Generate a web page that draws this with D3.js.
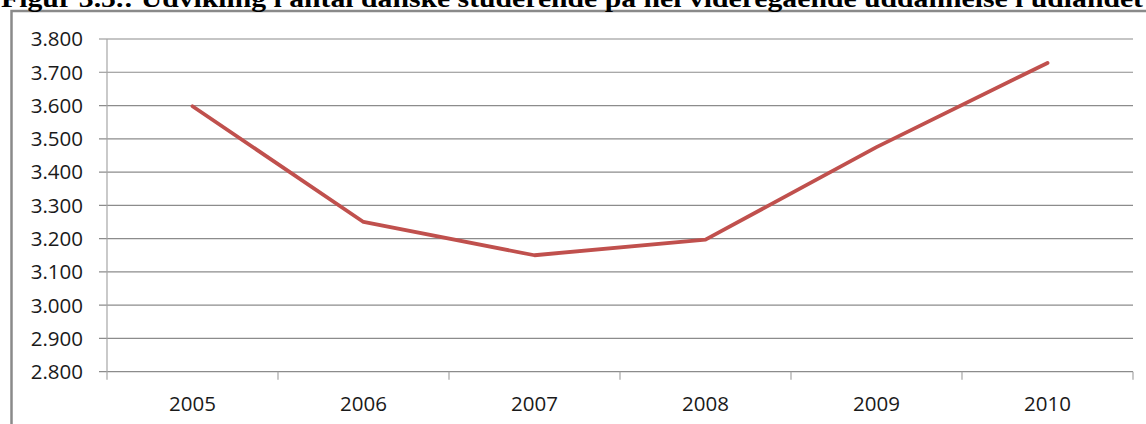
<!DOCTYPE html>
<html><head><meta charset="utf-8">
<script src="https://cdn.jsdelivr.net/npm/d3@7"></script>
<style>html,body{margin:0;padding:0;background:#fff;overflow:hidden}</style>
</head><body>
<svg id="chart" width="1146" height="424"></svg>
<script>
const title = "Figur 3.5.: Udvikling i antal danske studerende på hel videregående uddannelse i udlandet";
const years = ["2005", "2006", "2007", "2008", "2009", "2010"];
const students = [3598, 3250, 3150, 3197, 3475, 3728];
const yTicks = [2800, 2900, 3000, 3100, 3200, 3300, 3400, 3500, 3600, 3700, 3800];

const svg = d3.select("#chart");
const W = 1146, H = 424;
const m = {left: 107, right: 1133, top: 39, bottom: 371.7};

svg.append("rect").attr("width", W).attr("height", H).attr("fill", "#fff");

// frame
svg.append("rect").attr("x", 11.5).attr("y", 11).attr("width", 1200).attr("height", 500)
  .attr("fill", "none").attr("stroke", "#8a8a8a").attr("stroke-width", 2.5);

// title (clipped at top)
svg.append("text").attr("x", 1).attr("y", 7)
  .attr("font-family", "Liberation Serif, Times New Roman, serif")
  .attr("font-weight", "bold").attr("font-size", 26)
  .attr("textLength", 1142).attr("lengthAdjust", "spacingAndGlyphs")
  .attr("fill", "#000").text(title);

const locale = d3.formatLocale({decimal: ",", thousands: ".", grouping: [3], currency: ["", " kr."]});
const fmt = locale.format(",.0f");

const x = d3.scaleBand().domain(years).range([m.left, m.right]).padding(0);
const y = d3.scaleLinear().domain([2800, 3800]).range([m.bottom, m.top]);

// gridlines
svg.append("g").selectAll("line").data(yTicks).join("line")
  .attr("x1", m.left - 8).attr("x2", m.right)
  .attr("y1", d => y(d)).attr("y2", d => y(d))
  .attr("stroke", "#8c8c8c").attr("stroke-width", 1.2);

// y axis line
svg.append("line").attr("x1", m.left).attr("x2", m.left)
  .attr("y1", m.top).attr("y2", m.bottom + 8)
  .attr("stroke", "#a6a6a6").attr("stroke-width", 1.2);

// x ticks at band boundaries
const bounds = years.map(d => x(d)).concat([m.right]);
svg.append("g").selectAll("line").data(bounds.slice(1)).join("line")
  .attr("x1", d => d).attr("x2", d => d)
  .attr("y1", m.bottom).attr("y2", m.bottom + 8)
  .attr("stroke", "#a6a6a6").attr("stroke-width", 1.2);

// y labels
svg.append("g").selectAll("text").data(yTicks).join("text")
  .attr("x", 83).attr("y", d => y(d)).attr("dy", "0.36em")
  .attr("text-anchor", "end")
  .attr("font-family", "Open Sans, sans-serif").attr("font-size", 20.5)
  .attr("fill", "#1a1a1a").text(d => fmt(d));

// x labels
svg.append("g").selectAll("text").data(years).join("text")
  .attr("x", d => x(d) + x.bandwidth() / 2).attr("y", 411)
  .attr("text-anchor", "middle")
  .attr("font-family", "Open Sans, sans-serif").attr("font-size", 20.5)
  .attr("fill", "#1a1a1a").text(d => d);

// line
const pts = years.map((d, i) => [x(d) + x.bandwidth() / 2, y(students[i])]);
svg.append("path").attr("d", d3.line()(pts))
  .attr("fill", "none").attr("stroke", "#c0504d").attr("stroke-width", 3.8)
  .attr("stroke-linejoin", "round").attr("stroke-linecap", "round");
</script>
</body></html>
